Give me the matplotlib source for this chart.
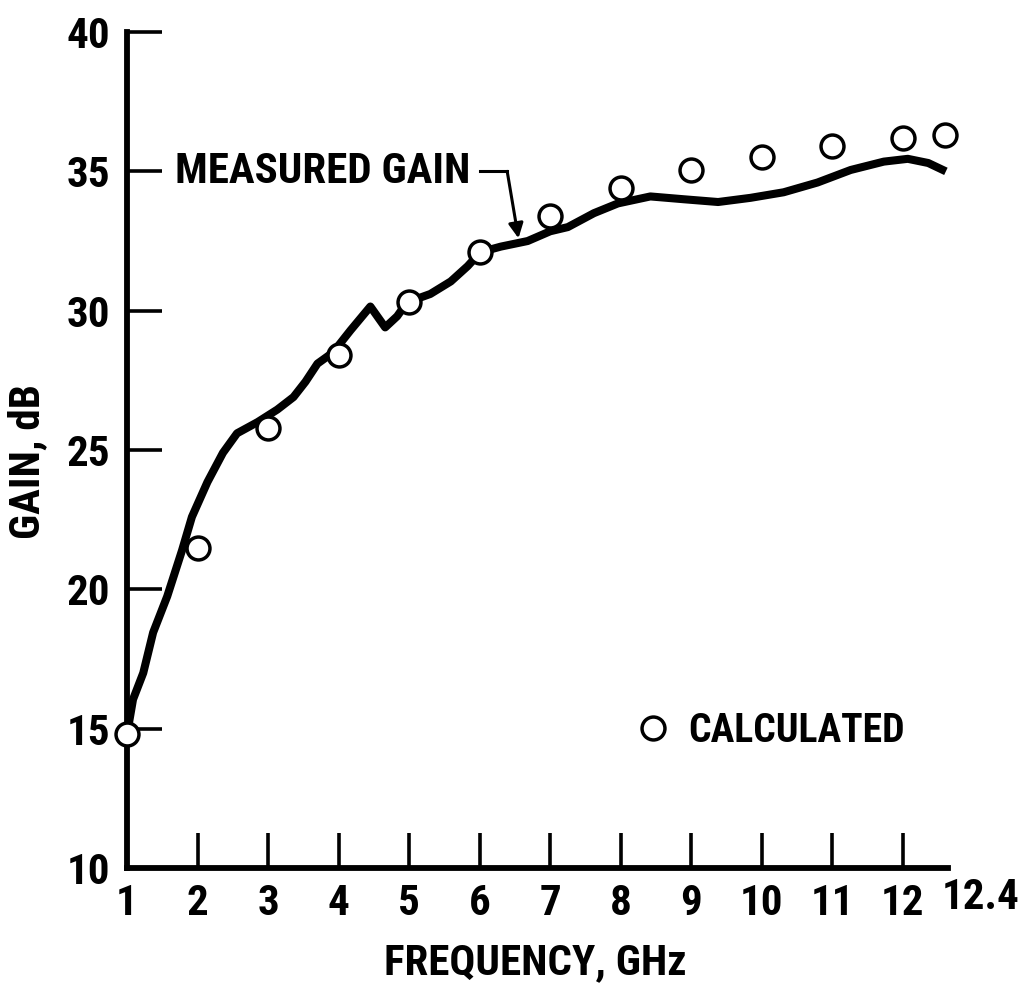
import matplotlib
matplotlib.use("Agg")
import matplotlib.pyplot as plt
from matplotlib import font_manager

# ── data ──────────────────────────────────────────────────────
calc_freq = [1, 2, 3, 4, 5, 6, 7, 8, 9, 10, 11, 12, 12.6]
calc_gain = [14.8, 21.5, 25.8, 28.4, 30.3, 32.1, 33.4, 34.4, 35.05, 35.5, 35.9, 36.2, 36.3]

meas_freq = [1.0, 1.085, 1.23, 1.37, 1.57, 1.78, 1.92, 2.14, 2.36, 2.56, 2.85, 3.13, 3.36,
             3.53, 3.70, 3.92, 4.17, 4.45, 4.66, 4.83, 4.97, 5.30, 5.59, 5.83, 6.01, 6.30,
             6.68, 7.00, 7.25, 7.62, 7.96, 8.42, 8.89, 9.38, 9.84, 10.31, 10.79,
             11.26, 11.73, 12.07, 12.36, 12.61]
meas_gain = [14.8, 16.05, 17.0, 18.45, 19.75, 21.4, 22.6, 23.85, 24.9, 25.6, 26.0, 26.45, 26.9,
             27.45, 28.1, 28.5, 29.3, 30.15, 29.4, 29.8, 30.3, 30.6, 31.05, 31.6, 32.1, 32.3,
             32.5, 32.85, 33.0, 33.5, 33.85, 34.1, 34.0, 33.9, 34.05, 34.25, 34.6,
             35.05, 35.35, 35.45, 35.3, 35.0]

x_ticks = [1, 2, 3, 4, 5, 6, 7, 8, 9, 10, 11, 12]
y_ticks = [10, 15, 20, 25, 30, 35, 40]
end_label = "12.4"

# narrow lettering like the original; fall back to DejaVu if none is there
names = {f.name for f in font_manager.fontManager.ttflist}
FONT = "DejaVu Sans"
for cand in ["Roboto Condensed", "Archivo Narrow", "PT Sans Narrow",
             "Liberation Sans Narrow", "Open Sans Condensed", "Pragati Narrow"]:
    if cand in names:
        FONT = cand
        break
FS = 31 if FONT != "DejaVu Sans" else 24
plt.rcParams.update({"font.family": [FONT, "DejaVu Sans"], "font.weight": "bold",
                     "axes.labelweight": "bold", "font.size": FS})

fig = plt.figure(figsize=(10.22, 9.86), dpi=100)
ax = fig.add_axes([0.1243, 0.1197, 0.8033, 0.8478])

ax.plot(meas_freq, meas_gain, color="black", lw=5.8, solid_capstyle="butt",
        solid_joinstyle="round", zorder=2)
ax.plot(calc_freq, calc_gain, ls="none", marker="o", ms=16.5, mew=2.5,
        mfc="white", mec="black", zorder=3, clip_on=False, label="CALCULATED")

ax.set_xlim(1, 12.64)
ax.set_ylim(10, 40)
ax.set_xticks(x_ticks)
ax.set_yticks(y_ticks)
ax.tick_params(direction="in", length=25, width=2.6, color="black")
ax.tick_params(axis="x", pad=11)
ax.tick_params(axis="y", pad=12)
for s in ["top", "right"]:
    ax.spines[s].set_visible(False)
for s in ["left", "bottom"]:
    ax.spines[s].set_linewidth(4.2)

# end-of-scale label sits past the last tick
ax.text(1.040, -0.0359, end_label, transform=ax.transAxes, ha="center", va="center")

ax.set_xlabel("FREQUENCY, GHz", va="center")
ax.xaxis.set_label_coords(0.497, -0.1136)
ax.set_ylabel("GAIN, dB", va="center")
ax.yaxis.set_label_coords(-0.1206, 0.4856)

# measured gain label with bent leader arrow
ax.text(1.68, 35.0, "MEASURED GAIN", ha="left", va="center")
ax.plot([6.0, 6.39], [35.0, 35.0], color="black", lw=2.2)
ax.annotate("", xy=(6.55, 32.6), xytext=(6.39, 35.0),
            arrowprops=dict(arrowstyle="-|>", lw=2.2, color="black",
                            mutation_scale=22, shrinkA=0, shrinkB=0))

ax.legend(loc="center left", bbox_to_anchor=(0.621, 0.164), frameon=False,
          borderpad=0, borderaxespad=0, handlelength=0.8, handletextpad=0.5,
          fontsize=FS - 2.5)

fig.savefig("out.png", dpi=100)
